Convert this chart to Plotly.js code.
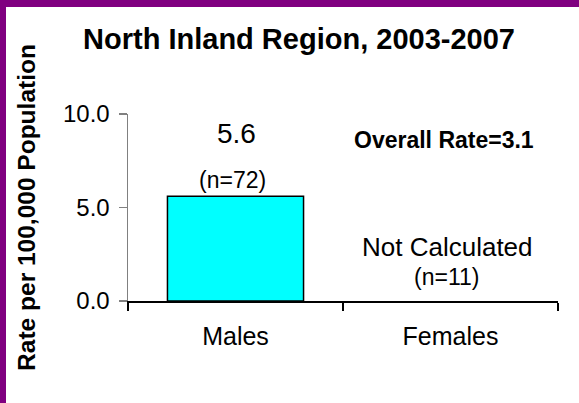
<!DOCTYPE html>
<html>
<head>
<meta charset="utf-8">
<script src="https://cdn.plot.ly/plotly-3.0.1.min.js"></script>
<style>
  html, body { margin: 0; padding: 0; background: #fff; }
  #wrap { position: relative; width: 579px; height: 403px; }
  #chart { position: absolute; left: 0; top: 0; width: 579px; height: 403px; }
  .frame { position: absolute; background: #800080; }
</style>
</head>
<body>
<div id="wrap">
  <div id="chart"></div>
  <div class="frame" style="left:0;top:0;width:579px;height:7px;"></div>
  <div class="frame" style="left:0;top:0;width:6px;height:403px;"></div>
</div>
<script>
// ---- data ----
const categories = ['Males', 'Females'];
const rates = [5.6, null];
const counts = [72, 11];
const rateLabels = ['5.6', 'Not Calculated'];
const overallRate = 3.1;
const yTickVals = [0, 5, 10];
const yTickText = ['0.0', '5.0', '10.0'];

const FONT = '"Liberation Sans", Arial, sans-serif';

const trace = {
  type: 'bar',
  x: categories,
  y: rates,
  width: 0.633,
  marker: { color: '#00FFFF', line: { color: '#000000', width: 1.5 } },
  hoverinfo: 'skip'
};

const annotations = [
  { x: categories[0], y: 8.98, text: rateLabels[0], font: { family: FONT, size: 28, color: '#000' }, xshift: 1 },
  { x: categories[0], y: 6.47, text: '(n=' + counts[0] + ')', font: { family: FONT, size: 23, color: '#000' }, xshift: -3 },
  { x: categories[1], y: 2.89, text: rateLabels[1], font: { family: FONT, size: 26, color: '#000' }, xshift: -3 },
  { x: categories[1], y: 1.28, text: '(n=' + counts[1] + ')', font: { family: FONT, size: 23, color: '#000' }, xshift: -4 },
  { x: categories[1], y: 8.61, text: '<b>Overall Rate=' + overallRate.toFixed(1) + '</b>', font: { family: FONT, size: 23, color: '#000' }, xshift: -7 }
].map(a => Object.assign({ xref: 'x', yref: 'y', showarrow: false, xanchor: 'center', yanchor: 'middle' }, a));

const layout = {
  width: 579,
  height: 403,
  margin: { l: 128, r: 21, t: 114, b: 102, pad: 0 },
  paper_bgcolor: '#ffffff',
  plot_bgcolor: '#ffffff',
  showlegend: false,
  title: {
    text: '<b>North Inland Region, 2003-2007</b>',
    font: { family: FONT, size: 29, color: '#000' },
    x: 299 / 579, xanchor: 'center', xref: 'container',
    y: 1 - 39 / 403, yanchor: 'middle', yref: 'container'
  },
  xaxis: {
    type: 'category',
    showline: true, linecolor: '#000000', linewidth: 1.5,
    ticks: 'outside', tickson: 'boundaries', ticklen: 8, tickcolor: '#000000', tickwidth: 1.5,
    showgrid: false, zeroline: false,
    tickfont: { family: FONT, size: 25, color: '#000' },
    ticklabelstandoff: 12,
    fixedrange: true
  },
  yaxis: {
    range: [0, 10],
    tickvals: yTickVals, ticktext: yTickText,
    showline: true, linecolor: '#808080', linewidth: 1.5,
    ticks: 'outside', ticklen: 8, tickcolor: '#808080', tickwidth: 1.5,
    showgrid: false, zeroline: false,
    tickfont: { family: FONT, size: 24, color: '#000' },
    ticklabelstandoff: 4,
    title: { text: '<b>Rate per 100,000 Population</b>', font: { family: FONT, size: 24.5, color: '#000' }, standoff: 20 },
    automargin: false,
    fixedrange: true
  },
  annotations: annotations
};

Plotly.newPlot('chart', [trace], layout, { displayModeBar: false, staticPlot: true });
</script>
</body>
</html>
